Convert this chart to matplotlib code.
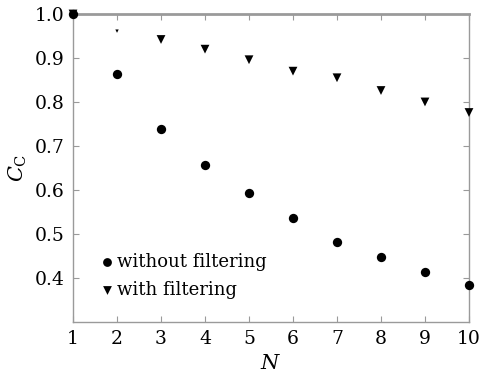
import numpy as np
import matplotlib.pyplot as plt

plt.rcParams['font.family'] = 'DejaVu Serif'
plt.rcParams['mathtext.fontset'] = 'dejavuserif'

N = [1, 2, 3, 4, 5, 6, 7, 8, 9, 10]
cc_without = [1.0, 0.863, 0.738, 0.657, 0.593, 0.536, 0.482, 0.448, 0.414, 0.385]
cc_with = [1.0, 0.961, 0.942, 0.920, 0.896, 0.870, 0.855, 0.826, 0.800, 0.776]

# the N=2 filtered marker is only a faint speck in the original
with_sizes = [40, 6, 40, 40, 40, 40, 40, 40, 40, 40]

grey = '#9a9a9a'

fig = plt.figure(figsize=(4.82, 3.73), dpi=100)
ax = fig.add_axes([0.1515, 0.137, 0.8215, 0.8255])

ax.scatter(N, cc_with, marker='v', s=with_sizes, color='black', lw=0,
           label='with filtering', clip_on=False, zorder=3)
ax.scatter(N, cc_without, marker='o', s=45, color='black', lw=0,
           label='without filtering', clip_on=False, zorder=4)

ax.set_xlim(1, 10)
ax.set_ylim(0.3, 1.0)
ax.set_xticks(range(1, 11))
ax.set_yticks([0.4, 0.5, 0.6, 0.7, 0.8, 0.9, 1.0])
ax.set_yticklabels(['0.4', '0.5', '0.6', '0.7', '0.8', '0.9', '1.0'])

for side, sp in ax.spines.items():
    sp.set_color(grey)
    sp.set_linewidth(1.0)
ax.spines['top'].set_linewidth(2.0)

ax.tick_params(direction='in', length=4, width=0.8, color=grey,
               top=True, right=True, labelsize=13.5, pad=6)

ax.set_xlabel(r'$N$', fontsize=15, labelpad=4)
ax.set_ylabel(r'$C_{\mathrm{C}}$', fontsize=15, labelpad=4)

h, l = ax.get_legend_handles_labels()
leg = ax.legend(h[::-1], l[::-1], loc='lower left', bbox_to_anchor=(0.03, 0.034),
                frameon=False, fontsize=13, handletextpad=0.1, handlelength=1.0,
                labelspacing=0.55, borderaxespad=0.3)
for lh in leg.legend_handles:
    lh.set_sizes([40])

fig.savefig('out.png', dpi=100)
